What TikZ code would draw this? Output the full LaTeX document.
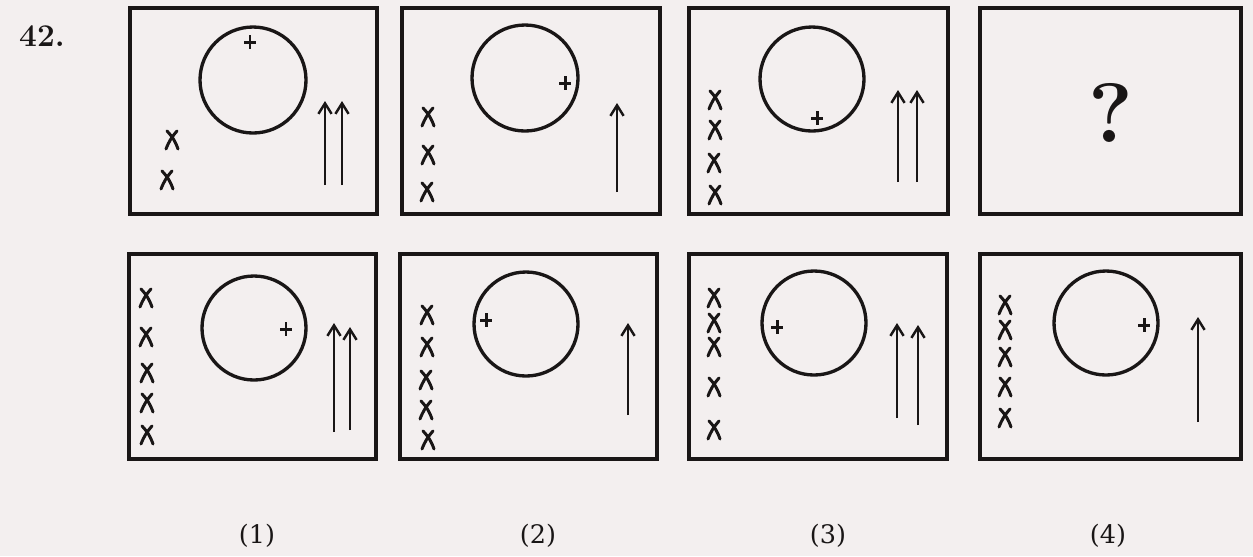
\documentclass[tikz,border=0pt]{standalone}
\usepackage{fontspec}
\newfontfamily\labfont{DejaVu Serif}
\usetikzlibrary{arrows.meta}
\definecolor{paper}{RGB}{243,239,239}
\definecolor{ink}{RGB}{25,22,22}
\newcommand\crossat[2]{\draw[crossmark,shift={(#1,#2)}] (-5,-9) to[bend left=12] (6,9) (5,-9) to[bend right=10] (-6,9);}
\newcommand\plusat[2]{\draw[plusmark,shift={(#1,#2)}] (-6,0) -- (6,0) (0,-7) -- (0,7);}
\tikzset{
  frame/.style={draw=ink,line width=2.4pt},
  ring/.style={draw=ink,line width=1.9pt},
  shaft/.style={draw=ink,line width=1.4pt,-{Straight Barb[length=6pt,width=7.5pt,line width=1.4pt]}},
  crossmark/.style={draw=ink,line width=1.7pt,line cap=round},
  plusmark/.style={draw=ink,line width=1.7pt},
  lab/.style={text=ink,font=\labfont\fontsize{14.5}{17}\selectfont,inner sep=0pt},
}
\begin{document}
\begin{tikzpicture}[x=0.02cm,y=-0.02cm]
\fill[paper] (0,0) rectangle (1253,556);
\useasboundingbox (0,0) rectangle (1253,556);
\node[text=ink,inner sep=0pt,font=\fontsize{18}{20}\selectfont\bfseries] (num) at (42,36) {42.};
% ---- top row ----
% panel 1
\draw[frame] (130,8) rectangle (377,214);
\draw[ring] (253,80) circle [radius=53];
\plusat{250}{42}
\draw[shaft] (325,185) -- (325,101);
\draw[shaft] (342,185) -- (342,101);
\crossat{172}{140}\crossat{167}{180}
% panel 2
\draw[frame] (402,8) rectangle (660,214);
\draw[ring] (525,78) circle [radius=53];
\plusat{565}{83}
\draw[shaft] (617,192) -- (617,103);
\crossat{428}{117}\crossat{428}{155}\crossat{427}{192}
% panel 3
\draw[frame] (689,8) rectangle (948,214);
\draw[ring] (812,79) circle [radius=52];
\plusat{817}{118}
\draw[shaft] (898,182) -- (898,90);
\draw[shaft] (917,182) -- (917,90);
\crossat{715}{100}\crossat{715}{130}\crossat{714}{163}\crossat{715}{195}
% panel 4
\draw[frame] (980,8) rectangle (1241,214);
\node[text=ink,inner sep=0pt,font=\fontsize{48}{50}\selectfont\bfseries] (q) at (1111,113) {?};
% ---- bottom row ----
% option 1
\draw[frame] (129,254) rectangle (376,459);
\draw[ring] (254,328) circle [radius=52];
\plusat{286}{329}
\draw[shaft] (334,432) -- (334,323);
\draw[shaft] (350,430) -- (350,327);
\crossat{146}{298}\crossat{146}{337}\crossat{147}{373}\crossat{147}{403}\crossat{147}{435}
% option 2
\draw[frame] (400,254) rectangle (657,459);
\draw[ring] (526,324) circle [radius=52];
\plusat{486}{320}
\draw[shaft] (628,415) -- (628,323);
\crossat{427}{315}\crossat{427}{347}\crossat{426}{380}\crossat{426}{410}\crossat{428}{440}
% option 3
\draw[frame] (689,254) rectangle (947,459);
\draw[ring] (814,323) circle [radius=52];
\plusat{777}{327}
\draw[shaft] (897,418) -- (897,323);
\draw[shaft] (918,425) -- (918,325);
\crossat{714}{298}\crossat{714}{323}\crossat{714}{347}\crossat{714}{387}\crossat{714}{430}
% option 4
\draw[frame] (980,254) rectangle (1241,459);
\draw[ring] (1106,323) circle [radius=52];
\plusat{1144}{325}
\draw[shaft] (1198,422) -- (1198,317);
\crossat{1005}{305}\crossat{1005}{330}\crossat{1005}{357}\crossat{1005}{387}\crossat{1005}{418}
% labels
\node[lab] (l1) at (257,536) {(1)};
\node[lab] (l2) at (538,536) {(2)};
\node[lab] (l3) at (828,536) {(3)};
\node[lab] (l4) at (1108,536) {(4)};
\end{tikzpicture}
\end{document}
